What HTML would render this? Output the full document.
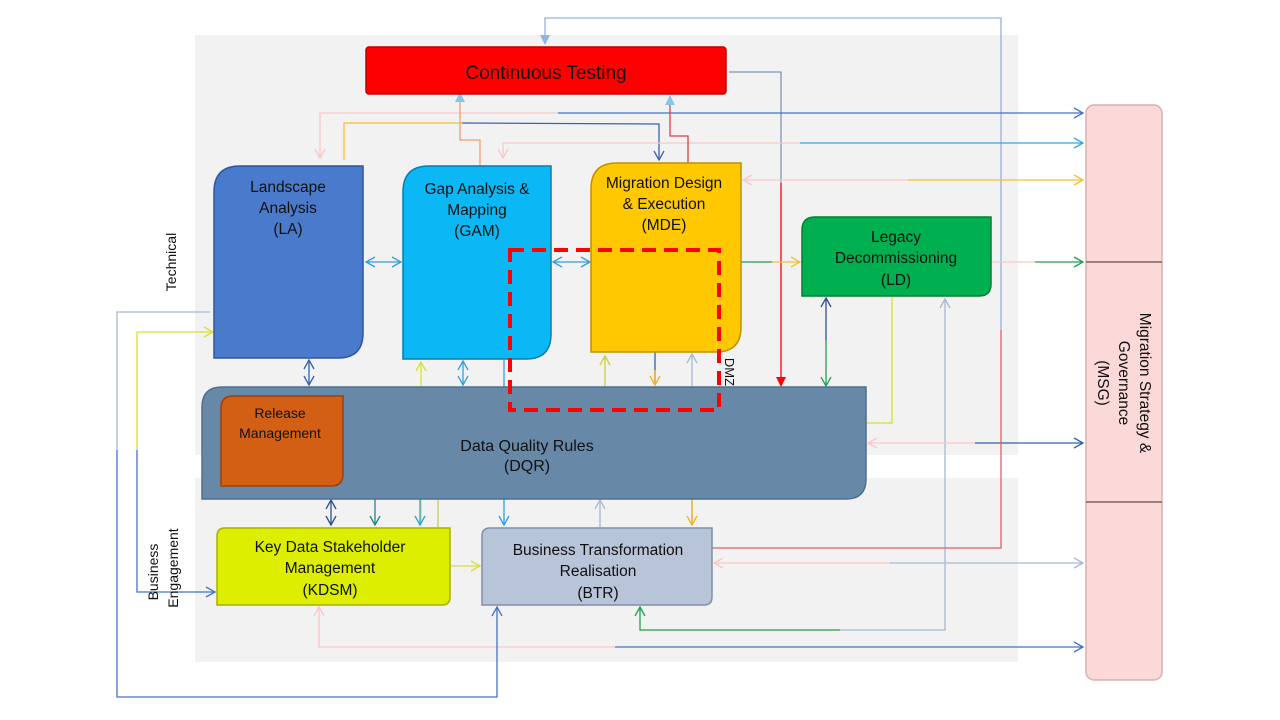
<!DOCTYPE html>
<html><head><meta charset="utf-8"><style>
body{margin:0;background:#fff;}
svg{display:block;font-family:"Liberation Sans",sans-serif;}
</style></head><body>
<svg width="1280" height="720" viewBox="0 0 1280 720" xmlns="http://www.w3.org/2000/svg">
<defs>
<marker id="a" markerWidth="12" markerHeight="12" refX="10" refY="6" orient="auto-start-reverse" markerUnits="userSpaceOnUse"><path d="M1,1 L10,6 L1,11" fill="none" stroke="context-stroke" stroke-width="1.3"/></marker>
<marker id="f" markerWidth="10" markerHeight="10" refX="9" refY="5" orient="auto" markerUnits="userSpaceOnUse"><path d="M0,0 L10,5 L0,10z" fill="context-stroke"/></marker>
</defs>
<rect x="195" y="35" width="823" height="420" fill="#f2f2f2"/>
<rect x="195" y="478" width="823" height="184" fill="#f2f2f2"/>
<g fill="none" stroke-width="1.3">
<polyline points="1001,330 1001,18 545,18 545,44" stroke="#8fb4e0" marker-end="url(#f)"/>
<polyline points="729,72 781,72 781,183" stroke="#7f96b8"/>
<line x1="781" y1="183" x2="781" y2="386" stroke="#f00" marker-end="url(#f)"/>
<line x1="558" y1="113" x2="1083" y2="113" stroke="#4472c4" marker-end="url(#a)"/>
<polyline points="558,113 320,113 320,158" stroke="#f8c8c8" marker-end="url(#a)"/>
<polyline points="344,160 344,123 462,123" stroke="#f5c030"/>
<polyline points="462,123 659,124 659,160" stroke="#3f62b0" marker-end="url(#a)"/>
<polyline points="800,143 503,143 503,158" stroke="#f8c8c8" marker-end="url(#a)"/>
<line x1="800" y1="143" x2="1083" y2="143" stroke="#30a8e0" marker-end="url(#a)"/>
<polyline points="480,166 480,140 460,140 460,93" stroke="#f0a070"/>
<line x1="460" y1="100" x2="460" y2="93" stroke="#80c8f0" marker-end="url(#f)"/>
<polyline points="688,163 688,136 670,136 670,96" stroke="#e04040"/>
<line x1="670" y1="103" x2="670" y2="96" stroke="#80c8f0" marker-end="url(#f)"/>
<line x1="908" y1="180" x2="743" y2="180" stroke="#f8c8c8" marker-end="url(#a)"/>
<line x1="908" y1="180" x2="1083" y2="180" stroke="#f5c030" marker-end="url(#a)"/>
<line x1="366" y1="262" x2="401" y2="262" stroke="#30a0e0" marker-start="url(#a)" marker-end="url(#a)"/>
<line x1="553" y1="262" x2="590" y2="262" stroke="#30a0e0" marker-start="url(#a)" marker-end="url(#a)"/>
<line x1="741" y1="262" x2="772" y2="262" stroke="#20a050"/>
<line x1="772" y1="262" x2="800" y2="262" stroke="#f5c030" marker-end="url(#a)"/>
<line x1="991" y1="262" x2="1035" y2="262" stroke="#f8c8c8"/>
<line x1="1035" y1="262" x2="1083" y2="262" stroke="#20a050" marker-end="url(#a)"/>
<line x1="826" y1="298" x2="826" y2="340" stroke="#2f4f8f" marker-start="url(#a)"/>
<line x1="826" y1="340" x2="826" y2="386" stroke="#20a050" marker-end="url(#a)"/>
<polyline points="945,299 945,630 840,630" stroke="#a8b8d0" marker-start="url(#a)"/>
<polyline points="840,630 640,630 640,607" stroke="#20a050" marker-end="url(#a)"/>
<polyline points="892,297 892,423 600,423" stroke="#d8e030"/>
<polyline points="600,423 375,423 375,525" stroke="#208888" marker-end="url(#a)"/>
<line x1="975" y1="443" x2="868" y2="443" stroke="#f8c8c8" marker-end="url(#a)"/>
<line x1="975" y1="443" x2="1083" y2="443" stroke="#3060b0" marker-end="url(#a)"/>
<polyline points="712,548 1001,548 1001,330" stroke="#e06060"/>
<line x1="890" y1="563" x2="714" y2="563" stroke="#f8c8c8" marker-end="url(#a)"/>
<line x1="890" y1="563" x2="1083" y2="563" stroke="#a8b8d0" marker-end="url(#a)"/>
<polyline points="615,647 319,647 319,607" stroke="#f8c8c8" marker-end="url(#a)"/>
<line x1="615" y1="647" x2="1083" y2="647" stroke="#4472c4" marker-end="url(#a)"/>
<polyline points="210,312 117,312 117,450" stroke="#a8b8d0"/>
<polyline points="117,450 117,697 497,697 497,607" stroke="#4472c4" marker-end="url(#a)"/>
<polyline points="137,450 137,332 213,332" stroke="#d8e030" marker-end="url(#a)"/>
<polyline points="137,450 137,592 215,592" stroke="#4472c4" marker-end="url(#a)"/>
<line x1="309" y1="360" x2="309" y2="385" stroke="#3060b0" marker-start="url(#a)" marker-end="url(#a)"/>
<line x1="463" y1="361" x2="463" y2="385" stroke="#30a0e0" marker-start="url(#a)" marker-end="url(#a)"/>
<line x1="421" y1="362" x2="421" y2="525" stroke="#d8e030" marker-start="url(#a)"/>
<line x1="420" y1="460" x2="420" y2="525" stroke="#30a0e0" marker-end="url(#a)"/>
<polyline points="438,527 438,491 605,491 605,356" stroke="#c8d040" marker-end="url(#a)"/>
<line x1="331" y1="500" x2="331" y2="525" stroke="#2f4f8f" marker-start="url(#a)" marker-end="url(#a)"/>
<line x1="504" y1="360" x2="504" y2="525" stroke="#30a0e0" marker-end="url(#a)"/>
<line x1="600" y1="527" x2="600" y2="500" stroke="#a8b8d0" marker-end="url(#a)"/>
<line x1="692" y1="354" x2="692" y2="525" stroke="#a8b8d0" marker-start="url(#a)"/>
<line x1="692" y1="460" x2="692" y2="525" stroke="#f5b020" marker-end="url(#a)"/>
<line x1="655" y1="352" x2="655" y2="385" stroke="#3060b0"/>
<line x1="655" y1="370" x2="655" y2="385" stroke="#f5b020" marker-end="url(#a)"/>
<line x1="450" y1="566" x2="480" y2="566" stroke="#d8e030" marker-end="url(#a)"/>
</g>
<g stroke-width="1.5">
<rect x="366" y="47" width="360" height="47" rx="3" fill="#ff0000" stroke="#c00000"/>
<path d="M240,166 H363 V333 Q363,358 338,358 H214 V192 Q214,166 240,166Z" fill="#4a7acc" stroke="#2f55a0"/>
<path d="M429,166 H551 V334 Q551,359 526,359 H403 V192 Q403,166 429,166Z" fill="#0bb8f5" stroke="#0080b0"/>
<path d="M617,163 H741 V327 Q741,352 716,352 H591 V189 Q591,163 617,163Z" fill="#ffc800" stroke="#c09000"/>
<path d="M815,217 H991 V284 Q991,296 979,296 H802 V230 Q802,217 815,217Z" fill="#00b050" stroke="#008030"/>
<path d="M222,387 H866 V479 Q866,499 846,499 H202 V407 Q202,387 222,387Z" fill="#6888a8" stroke="#4f6f90"/>
<path d="M233,396 H343 V474 Q343,486 331,486 H221 V408 Q221,396 233,396Z" fill="#d35f14" stroke="#a04008"/>
<path d="M225,528 H450 V597 Q450,605 442,605 H217 V536 Q217,528 225,528Z" fill="#ddee00" stroke="#a8b000"/>
<path d="M490,528 H712 V597 Q712,605 704,605 H482 V536 Q482,528 490,528Z" fill="#b8c4d8" stroke="#8090a8"/>
<rect x="1086" y="105" width="76" height="575" rx="8" fill="#fcd9d9" stroke="#d8b0b0"/>
<line x1="1086" y1="262" x2="1162" y2="262" stroke="#806060"/>
<line x1="1086" y1="502" x2="1162" y2="502" stroke="#806060"/>
</g>
<rect x="510" y="250" width="209" height="160" fill="none" stroke="#f00" stroke-width="4" stroke-dasharray="14,8"/>
<g font-size="15.5" fill="#111" text-anchor="middle">
<text x="546" y="79" font-size="19">Continuous Testing</text>
<text x="288" y="192">Landscape</text><text x="288" y="213">Analysis</text><text x="288" y="234">(LA)</text>
<text x="477" y="194">Gap Analysis &amp;</text><text x="477" y="215">Mapping</text><text x="477" y="236">(GAM)</text>
<text x="664" y="188">Migration Design</text><text x="664" y="209">&amp; Execution</text><text x="664" y="230">(MDE)</text>
<text x="896" y="242">Legacy</text><text x="896" y="263">Decommissioning</text><text x="896" y="285">(LD)</text>
<text x="280" y="418" font-size="14">Release</text><text x="280" y="438" font-size="14">Management</text>
<text x="527" y="451" font-size="16">Data Quality Rules</text><text x="527" y="471" font-size="16">(DQR)</text>
<text x="330" y="552">Key Data Stakeholder</text><text x="330" y="573">Management</text><text x="330" y="595">(KDSM)</text>
<text x="598" y="555">Business Transformation</text><text x="598" y="576">Realisation</text><text x="598" y="598">(BTR)</text>
<g transform="translate(1130,383) rotate(90)"><text x="0" y="-10">Migration Strategy &amp;</text><text x="0" y="11">Governance</text><text x="0" y="32">(MSG)</text></g>
<text transform="translate(176,262) rotate(-90)" font-size="14">Technical</text>
<text transform="translate(158,572) rotate(-90)" font-size="14">Business</text>
<text transform="translate(178,568) rotate(-90)" font-size="14">Engagement</text>
<text transform="translate(725,372) rotate(90)" font-size="13">DMZ</text>
</g>
</svg>
</body></html>
